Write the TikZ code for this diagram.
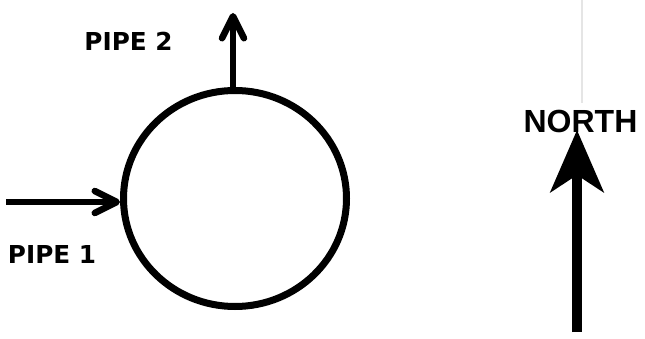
\documentclass[tikz,border=0pt]{standalone}
\usepackage{fontspec}
\newfontfamily\pipefont{DejaVu Sans}
\newfontfamily\northfont{Liberation Sans}
\usetikzlibrary{arrows.meta,positioning,shapes.geometric}

\begin{document}
\begin{tikzpicture}[
    x=1pt, y=-1pt,
    tank/.style={
        ellipse, draw=black, line width=7pt,
        minimum width=223pt, minimum height=216pt, inner sep=0pt
    },
    pipe/.style={
        line width=6.5pt,
        -{Straight Barb[length=22pt, width=22pt, round]}
    },
    pointer/.style={
        line width=10pt,
        -{Stealth[length=62pt, width=53pt, inset=17pt]}
    },
    pipelabel/.style={font=\pipefont\bfseries\fontsize{24.7}{28}\selectfont, inner sep=0pt},
    northlabel/.style={font=\northfont\bfseries\fontsize{32}{36}\selectfont, inner sep=0pt}
]
\useasboundingbox (0,0) rectangle (645,339);

% faint guide line at the top right
\draw[black!10, line width=1.5pt] (582,0) -- (582,103);

\node[tank] (tank) at (235,198.5) {};

\coordinate (p1start) at (6,202);
\coordinate (p2end) at (233,13);
\draw[pipe] (p1start) -- (tank.west |- p1start);
\draw[pipe] (p2end |- tank.north) -- (p2end);

\node[pipelabel] (lbl1) at (52,254) {PIPE 1};
\node[pipelabel] (lbl2) at (128.5,41) {PIPE 2};

% north arrow
\coordinate (nbase) at (577,332);
\coordinate (ntip) at (577,130);
\draw[pointer] (nbase) -- (ntip);
\node[northlabel] (north) at (580.5,121.5) {NORTH};
\end{tikzpicture}
\end{document}
